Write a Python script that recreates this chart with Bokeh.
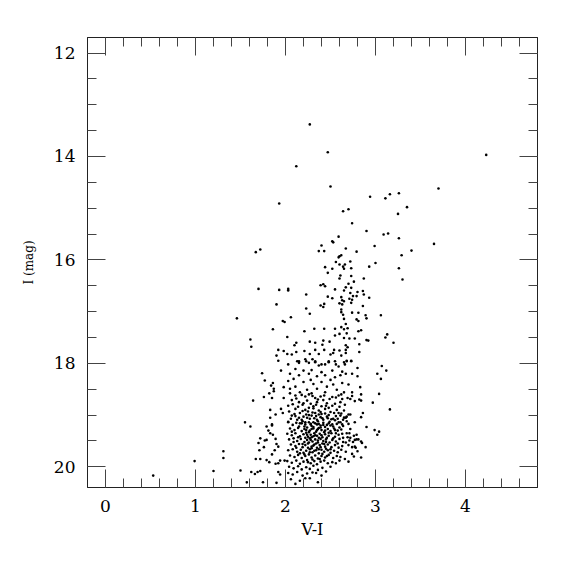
from bokeh.plotting import figure
from bokeh.models import Range1d, LinearAxis, SingleIntervalTicker, CustomJSTickFormatter, ColumnDataSource
from bokeh.embed import file_html
from bokeh.resources import INLINE

# ---- data: (V-I, I) ----
upper_stars = [
    (2.27,13.38),(2.47,13.92),(4.23,13.97),(2.12,14.19),(2.50,14.58),(3.70,14.62),(2.94,14.78),(3.11,14.81),
    (3.16,14.73),(3.26,14.71),(1.93,14.91),(2.64,15.06),(2.70,15.02),(3.35,14.98),(3.25,15.11),(2.74,15.29),
    (2.90,15.44),(3.09,15.51),(3.14,15.49),(3.26,15.58),(2.59,15.55),(2.52,15.64),(2.53,15.66),(2.40,15.72),
    (2.99,15.73),(3.65,15.69),(2.37,15.83),(2.43,15.83),(2.67,15.78),(2.79,15.84),(3.40,15.82),(1.72,15.80),
    (1.67,15.85),(2.62,15.91),(2.59,15.95),(3.29,15.91),(3.26,16.16),(3.30,16.38),(3.13,17.44),(3.11,17.50),
    (3.20,17.60),(3.06,17.07),(1.70,16.56),(1.93,16.58),(1.90,16.86),(1.46,17.13),(1.86,17.34),(1.61,17.54),
    (1.62,17.68),(1.92,17.74),(1.90,17.85),(1.92,17.95),
]

giant_branch = [
    (2.60,15.93),(2.56,16.04),(2.72,16.03),(2.66,16.09),(2.64,16.13),(2.60,16.09),(2.65,16.17),(2.73,16.16),
    (2.44,16.14),(2.52,16.17),(2.47,16.25),(3.00,16.06),(2.93,16.13),(2.61,16.30),(2.60,16.36),(2.73,16.31),
    (2.87,16.36),(2.70,16.46),(2.76,16.42),(2.39,16.49),(2.42,16.47),(2.44,16.51),(2.55,16.57),(2.67,16.53),
    (2.65,16.59),(2.73,16.54),(2.03,16.56),(2.03,16.59),(2.80,16.62),(2.86,16.60),(2.72,16.64),(2.87,16.67),
    (2.23,16.67),(2.75,16.70),(2.79,16.70),(2.62,16.72),(2.93,16.73),(2.47,16.71),(2.52,16.74),(2.71,16.75),
    (2.74,16.77),(2.63,16.78),(2.65,16.80),(2.60,16.84),(2.63,16.86),(2.43,16.85),(2.39,16.88),(2.42,16.91),
    (2.23,16.94),(2.86,16.89),(2.73,16.83),(2.62,16.96),(2.62,17.01),(2.81,17.02),(2.74,17.02),(2.27,17.04),
    (2.06,17.11),(2.64,17.06),(2.89,17.07),(2.90,17.13),(2.65,17.14),(2.79,17.15),(2.81,17.18),(1.97,17.18),
    (1.99,17.20),(2.67,17.24),(2.69,17.32),(2.62,17.30),(2.65,17.34),(2.84,17.36),(2.81,17.38),(2.32,17.33),
    (2.43,17.33),(2.55,17.33),(2.21,17.38),(2.60,17.43),(2.68,17.42),(2.55,17.46),(2.02,17.49),(2.65,17.51),
    (2.71,17.52),(2.77,17.52),(2.90,17.55),(2.92,17.56),(2.12,17.60),(2.10,17.65),(2.27,17.58),(2.33,17.60),
    (2.42,17.56),(2.49,17.58),(2.82,17.63),(2.67,17.65),(2.69,17.69),(2.41,17.64),(1.98,17.76),(2.21,17.76),
    (2.33,17.74),(2.43,17.74),(2.54,17.74),(2.53,17.80),(2.60,17.75),(2.67,17.74),(2.82,17.78),(2.02,17.82),
    (2.07,17.83),(2.12,17.78),(2.27,17.82),(2.37,17.82),(2.50,17.83),(2.62,17.85),(2.67,17.80),(2.22,17.92),
    (2.30,17.92),(2.33,17.98),(2.48,17.96),(2.68,17.95),(2.73,17.95),(2.13,17.96),(2.15,17.99),(2.26,17.99),
    (2.40,18.02),(2.56,18.02),(2.66,18.02),
]

blue_side = [
    (0.53,20.17),(0.99,19.89),(1.31,19.70),(1.31,19.83),(1.20,20.08),
    (1.74,18.19),(1.95,18.14),(1.77,18.33),(1.86,18.38),(1.84,18.43),(1.98,18.46),(1.87,18.49),(1.87,18.54),
    (1.82,18.58),(1.76,18.65),(1.85,18.67),(1.98,18.67),(1.64,18.72),(1.83,18.90),(1.95,18.88),(1.89,18.99),
    (1.97,18.96),(1.83,19.05),(1.55,19.14),(1.85,19.18),(1.61,19.22),(1.79,19.22),(1.85,19.20),(1.81,19.30),
    (1.83,19.35),(1.86,19.38),(1.72,19.45),(1.77,19.49),(1.79,19.48),(1.89,19.46),(1.70,19.54),(1.90,19.56),
    (1.76,19.62),(1.92,19.61),(1.71,19.68),(1.88,19.68),(1.85,19.76),(1.67,19.85),(1.72,19.85),(1.79,19.87),
    (1.82,19.91),(1.89,19.94),(1.94,19.88),(1.99,19.88),(1.92,19.93),(1.50,20.07),(1.62,20.10),(1.66,20.14),
    (1.69,20.10),(1.72,20.08),(1.92,20.10),(1.94,20.15),(1.57,20.30),(1.75,20.30),(1.90,20.31),
]

upper_core = [
    (2.15,17.96),(2.23,17.96),(2.33,17.96),(2.48,17.98),(2.55,17.96),(2.65,17.98),(2.03,18.02),(2.37,18.04),
    (2.44,18.02),(2.59,18.06),(2.11,18.11),(2.20,18.14),(2.29,18.13),(2.40,18.17),(2.52,18.14),(2.63,18.16),
    (2.05,18.20),(2.26,18.20),(2.15,18.23),(2.35,18.25),(2.44,18.23),(2.55,18.27),(2.61,18.23),(2.09,18.30),
    (2.28,18.32),(2.50,18.32),(2.03,18.34),(2.20,18.36),(2.31,18.40),(2.40,18.36),(2.53,18.41),(2.63,18.38),
    (2.11,18.45),(2.46,18.45),(2.05,18.49),(2.24,18.51),(2.35,18.49),(2.57,18.51),(2.16,18.56),(2.29,18.58),
    (2.44,18.56),(2.65,18.56),(2.11,18.62),(2.22,18.64),(2.26,18.60),(2.33,18.67),(2.39,18.64),(2.52,18.65),
    (2.59,18.62),(2.07,18.71),(2.42,18.71),(2.63,18.69),(2.15,18.75),(2.20,18.77),(2.28,18.78),(2.35,18.75),
    (2.46,18.77),(2.55,18.78),(2.61,18.75),(2.03,18.82),(2.31,18.83),(2.40,18.83),(2.52,18.82),(2.11,18.88),
    (2.22,18.90),(2.26,18.86),(2.37,18.91),(2.44,18.88),(2.50,18.94),(2.57,18.90),(2.65,18.91),(2.16,18.96),
    (2.33,18.96),(2.59,18.96),(2.07,19.01),(2.20,19.03),(2.24,19.05),(2.29,19.01),(2.39,19.04),(2.46,19.03),
    (2.53,19.07),(2.61,19.01),(2.65,19.05),(2.13,19.09),(2.35,19.09),(2.42,19.09),(2.55,19.10),(2.03,19.14),
    (2.16,19.16),(2.22,19.14),(2.28,19.18),(2.37,19.17),(2.48,19.16),(2.52,19.18),(2.59,19.14),(2.63,19.18),
    (2.31,19.14),
]

mid_core = [
    (2.05,18.58),(2.12,18.68),(2.18,18.61),(2.24,18.72),(2.30,18.63),(2.36,18.70),(2.43,18.62),(2.49,18.69),
    (2.56,18.66),(2.62,18.60),(2.08,18.79),(2.14,18.84),(2.19,18.80),(2.25,18.93),(2.31,18.87),(2.34,18.80),
    (2.39,18.94),(2.45,18.82),(2.48,18.86),(2.54,18.96),(2.60,18.84),(2.66,18.80),(2.04,18.93),(2.10,18.98),
    (2.15,19.05),(2.19,18.92),(2.23,18.99),(2.27,19.07),(2.30,18.95),(2.34,19.02),(2.37,18.99),(2.41,19.06),
    (2.44,18.97),(2.48,19.00),(2.51,19.08),(2.56,19.02),(2.62,18.97),(2.68,19.03),(2.06,19.07),(2.11,19.02),
    (2.18,19.09),(2.26,19.00),(2.32,19.06),(2.40,18.98),(2.47,19.06),(2.58,19.07),(2.64,19.09),
    (2.34,20.12),(2.40,20.17),(2.27,20.22),(2.36,20.30),(2.45,20.09),(2.50,20.00),(2.56,19.93),(2.60,19.88),
    (2.66,19.85),(2.70,19.90),(2.76,19.80),(2.80,19.70),(2.70,19.58),(2.75,19.52),
]

red_side = [
    (2.68,17.96),(2.73,17.96),(3.07,18.05),(3.12,18.14),(2.80,18.09),(2.67,18.20),(2.74,18.20),(2.80,18.25),
    (3.02,18.20),(3.06,18.30),(2.70,18.41),(2.83,18.46),(2.74,18.56),(2.84,18.60),(3.04,18.59),(2.74,18.63),
    (2.69,18.67),(2.72,18.69),(2.77,18.73),(2.82,18.70),(2.84,18.72),(2.97,18.76),(3.16,18.89),(2.86,18.96),
    (2.70,18.99),(2.72,18.99),(2.84,19.04),(2.67,19.05),(2.77,19.14),(2.68,19.12),(2.70,19.17),(2.90,19.23),
    (2.72,19.27),(2.99,19.29),(3.04,19.32),(3.02,19.38),(2.68,19.35),(2.71,19.35),(2.79,19.38),(2.69,19.43),
    (2.72,19.44),(2.76,19.40),(2.79,19.47),(2.81,19.47),(2.77,19.48),(2.71,19.49),(2.84,19.51),(2.85,19.54),
    (2.67,19.53),(2.74,19.62),(2.77,19.61),(2.78,19.63),(2.89,19.62),(2.67,19.71),(2.74,19.75),(2.84,19.82),
]

faint_core = [
    (2.03,19.13),(2.08,19.19),(2.12,19.15),(2.15,19.22),(2.19,19.12),(2.22,19.18),(2.26,19.14),(2.29,19.21),
    (2.33,19.16),(2.36,19.12),(2.39,19.20),(2.42,19.15),(2.46,19.19),(2.49,19.13),(2.53,19.22),(2.57,19.17),
    (2.61,19.14),(2.64,19.21),(2.05,19.26),(2.10,19.29),(2.14,19.25),(2.18,19.31),(2.21,19.27),(2.24,19.24),
    (2.27,19.30),(2.31,19.26),(2.34,19.32),(2.37,19.25),(2.40,19.29),(2.43,19.33),(2.47,19.27),(2.50,19.31),
    (2.54,19.26),(2.58,19.30),(2.62,19.28),(2.02,19.36),(2.07,19.39),(2.11,19.35),(2.16,19.41),(2.20,19.37),
    (2.23,19.34),(2.25,19.42),(2.28,19.38),(2.32,19.35),(2.35,19.40),(2.38,19.36),(2.41,19.43),(2.44,19.37),
    (2.48,19.40),(2.51,19.35),(2.55,19.42),(2.59,19.38),(2.63,19.36),(2.04,19.47),(2.09,19.45),(2.13,19.50),
    (2.17,19.46),(2.21,19.52),(2.24,19.48),(2.27,19.45),(2.30,19.51),(2.33,19.47),(2.36,19.53),(2.39,19.46),
    (2.42,19.50),(2.45,19.47),(2.49,19.53),(2.52,19.48),(2.56,19.51),(2.60,19.46),(2.64,19.52),(2.06,19.57),
    (2.11,19.60),(2.15,19.56),(2.19,19.62),(2.22,19.58),(2.25,19.55),(2.29,19.61),(2.32,19.57),(2.35,19.63),
    (2.38,19.58),(2.41,19.55),(2.44,19.61),(2.47,19.57),(2.51,19.62),(2.55,19.58),(2.59,19.63),(2.63,19.60),
    (2.03,19.68),(2.08,19.66),(2.13,19.71),(2.17,19.67),(2.20,19.73),(2.23,19.69),(2.27,19.66),(2.30,19.72),
    (2.34,19.68),(2.37,19.74),(2.40,19.67),(2.43,19.71),(2.47,19.68),(2.50,19.73),(2.54,19.69),(2.58,19.72),
    (2.62,19.67),(2.05,19.78),(2.10,19.81),(2.14,19.77),(2.18,19.83),(2.22,19.79),(2.26,19.76),(2.29,19.82),
    (2.33,19.78),(2.36,19.84),(2.40,19.79),(2.44,19.82),(2.48,19.77),(2.53,19.83),(2.57,19.79),(2.61,19.81),
    (2.02,19.89),(2.07,19.92),(2.12,19.88),(2.16,19.94),(2.20,19.90),(2.24,19.87),(2.28,19.93),(2.32,19.89),
    (2.35,19.95),(2.39,19.90),(2.43,19.88),(2.47,19.93),(2.52,19.91),(2.04,20.00),(2.09,20.03),(2.14,19.99),
    (2.18,20.05),(2.23,20.01),(2.27,20.04),(2.31,19.98),(2.36,20.06),(2.41,20.02),(2.03,20.12),(2.08,20.15),
    (2.13,20.10),(2.19,20.17),(2.24,20.13),(2.30,20.11),(2.06,20.24),(2.16,20.27),(2.22,20.22),(2.11,20.33),
    (2.18,19.16),(2.28,19.17),(2.35,19.18),(2.44,19.23),(2.21,19.22),(2.31,19.23),(2.39,19.24),(2.50,19.20),
    (2.26,19.33),(2.35,19.29),(2.44,19.30),(2.29,19.43),(2.37,19.44),(2.46,19.44),(2.31,19.41),(2.22,19.44),
    (2.26,19.53),(2.34,19.55),(2.43,19.56),(2.29,19.64),(2.39,19.62),(2.25,19.63),(2.32,19.69),(2.41,19.75),
    (2.21,19.76),(2.27,19.72),(2.38,19.85),(2.30,19.86),(2.25,19.91),(2.36,19.27),(2.42,19.19),(2.29,19.27),
    (2.23,19.29),(2.48,19.34),(2.33,19.39),(2.40,19.39),(2.36,19.49),(2.28,19.48),(2.45,19.52),(2.31,19.59),
    (2.37,19.66),(2.45,19.65),(2.19,19.56),(2.24,19.38),(2.53,19.45),(2.56,19.35),(2.58,19.55),(2.14,19.43),
    (2.12,19.63),(2.16,19.74),(2.50,19.66),(2.46,19.79),(2.09,19.52),(2.07,19.32),(2.55,19.29),(2.60,19.24),
    (2.64,19.44),
]

x_ticks_major = [0, 1, 2, 3, 4]
y_ticks_major = [12, 14, 16, 18, 20]

groups = [upper_stars, giant_branch, blue_side, upper_core, mid_core, red_side, faint_core]
vi = [s[0] for g in groups for s in g]
imag = [s[1] for g in groups for s in g]
src = ColumnDataSource(data=dict(vi=vi, imag=imag))

FONT = "DejaVu Serif"

p = figure(width=560, height=560, frame_width=450, frame_height=450,
           x_range=Range1d(-0.2, 4.8), y_range=Range1d(20.4, 11.7),
           output_backend="svg", toolbar_location=None,
           min_border_left=87, min_border_right=23, min_border_top=37, min_border_bottom=73)
p.background_fill_color = "white"
p.border_fill_color = "white"
p.grid.visible = False
p.outline_line_color = "#222222"
p.outline_line_width = 1

p.scatter("vi", "imag", source=src, size=2.6, marker="circle", color="black", line_width=0)

def style(ax, labels=True):
    ax.axis_line_color = "#222222"
    ax.major_tick_line_color = "#444444"
    ax.minor_tick_line_color = "#444444"
    ax.major_tick_in = 18
    ax.major_tick_out = 0
    ax.minor_tick_in = 9
    ax.minor_tick_out = 0
    ax.major_label_text_font = FONT
    ax.major_label_text_font_size = "17px"
    ax.major_label_text_color = "black"
    ax.axis_label_text_font = FONT
    ax.axis_label_text_font_style = "normal"
    ax.axis_label_text_color = "black"
    if not labels:
        ax.formatter = CustomJSTickFormatter(code="return ''")

xa = p.xaxis[0]
xa.ticker = SingleIntervalTicker(interval=1, num_minor_ticks=5)
xa.axis_label = "V-I"
xa.axis_label_text_font_size = "16px"
xa.major_label_standoff = 12
xa.axis_label_standoff = 5
style(xa)

ya = p.yaxis[0]
ya.ticker = SingleIntervalTicker(interval=2, num_minor_ticks=4)
ya.axis_label = "I (mag)"
ya.axis_label_text_font_size = "12px"
ya.major_label_standoff = 12
ya.axis_label_standoff = 15
style(ya)

top = LinearAxis(ticker=SingleIntervalTicker(interval=1, num_minor_ticks=5))
style(top, labels=False)
p.add_layout(top, "above")
right = LinearAxis(ticker=SingleIntervalTicker(interval=2, num_minor_ticks=4))
style(right, labels=False)
p.add_layout(right, "right")

open("out.html", "w").write(file_html(p, INLINE))
